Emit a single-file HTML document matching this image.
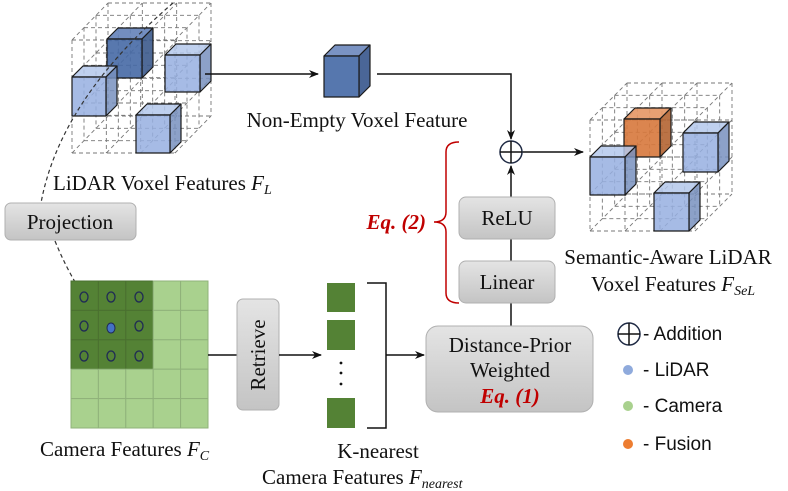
<!DOCTYPE html>
<html><head><meta charset="utf-8"><style>
html,body{margin:0;padding:0;background:#fff;}
svg{display:block;}
.t{font-family:"Liberation Serif",serif;fill:#111;}
.s{font-family:"Liberation Sans",sans-serif;fill:#111;font-size:19px;}
.r{font-family:"Liberation Serif",serif;fill:#c00000;font-weight:bold;font-style:italic;}
</style></head><body>
<svg id="g" width="788" height="491" viewBox="0 0 788 491" xmlns="http://www.w3.org/2000/svg">
<defs>
<linearGradient id="gb" x1="0" y1="0" x2="0" y2="1"><stop offset="0" stop-color="#e4e4e4"/><stop offset="1" stop-color="#c4c4c4"/></linearGradient>
<marker id="ar" markerWidth="10" markerHeight="10" refX="9" refY="5" orient="auto" markerUnits="userSpaceOnUse"><path d="M0,1 L10,5 L0,9 L3,5z" fill="#111"/></marker>
</defs>
<g id="grids"></g>
<g id="cubes"></g>

<line x1="205" y1="74" x2="318" y2="74" stroke="#111" stroke-width="1.5" marker-end="url(#ar)"/>
<polyline points="377,74 511,74 511,139" fill="none" stroke="#111" stroke-width="1.5" marker-end="url(#ar)"/>
<line x1="522" y1="152" x2="583" y2="152" stroke="#111" stroke-width="1.5" marker-end="url(#ar)"/>
<line x1="511" y1="326" x2="511" y2="166" stroke="#111" stroke-width="1.5" marker-end="url(#ar)"/>
<circle cx="511" cy="152" r="11" fill="#fff" stroke="#1f2a44" stroke-width="1.5"/>
<path d="M500,152h22M511,141v22" stroke="#111" stroke-width="1.5"/>

<text class="t" x="357" y="127" font-size="21" text-anchor="middle">Non-Empty Voxel Feature</text>
<text class="t" x="53" y="190" font-size="21">LiDAR Voxel Features <tspan font-style="italic">F</tspan><tspan font-style="italic" font-size="14" dy="4">L</tspan></text>

<rect x="5" y="203" width="131" height="37" rx="6" fill="url(#gb)" stroke="#b0b0b0"/>
<text class="t" x="70" y="229" font-size="21" text-anchor="middle">Projection</text>
<path d="M173,3 Q60,100 41,203" fill="none" stroke="#333" stroke-width="1.2" stroke-dasharray="4,3"/>
<path d="M55,241 Q75,290 106,325" fill="none" stroke="#333" stroke-width="1.2" stroke-dasharray="4,3" marker-end="url(#ar)"/>

<g id="cam"></g>

<line x1="208" y1="355" x2="237" y2="355" stroke="#111" stroke-width="1.5"/>
<rect x="237" y="299" width="42" height="111" rx="6" fill="url(#gb)" stroke="#b0b0b0"/>
<text class="t" font-size="21" text-anchor="middle" transform="translate(265,355) rotate(-90)">Retrieve</text>
<line x1="279" y1="355" x2="321" y2="355" stroke="#111" stroke-width="1.5" marker-end="url(#ar)"/>

<rect x="327" y="283" width="28" height="29" fill="#548235"/>
<rect x="327" y="320" width="28" height="30" fill="#548235"/>
<rect x="327" y="398" width="28" height="30" fill="#548235"/>
<circle cx="341" cy="363" r="1.4" fill="#111"/><circle cx="341" cy="373" r="1.4" fill="#111"/><circle cx="341" cy="384" r="1.4" fill="#111"/>
<polyline points="367,283 386,283 386,428 367,428" fill="none" stroke="#111" stroke-width="1.5"/>
<line x1="386" y1="355" x2="424" y2="355" stroke="#111" stroke-width="1.5" marker-end="url(#ar)"/>

<rect x="426" y="326" width="167" height="86" rx="12" fill="url(#gb)" stroke="#b0b0b0"/>
<text class="t" x="510" y="352" font-size="21" text-anchor="middle">Distance-Prior</text>
<text class="t" x="510" y="377" font-size="21" text-anchor="middle">Weighted</text>
<text class="r" x="510" y="403" font-size="21" text-anchor="middle">Eq. (1)</text>

<rect x="459" y="261" width="96" height="42" rx="7" fill="url(#gb)" stroke="#b0b0b0"/>
<text class="t" x="507" y="289" font-size="21" text-anchor="middle">Linear</text>
<rect x="459" y="197" width="96" height="42" rx="7" fill="url(#gb)" stroke="#b0b0b0"/>
<text class="t" x="507" y="225" font-size="21" text-anchor="middle">ReLU</text>

<path d="M459,142 Q446,142 446,152 L446,212 Q446,222 434,222 Q446,222 446,232 L446,293 Q446,303 459,303" fill="none" stroke="#c00000" stroke-width="1.5"/>
<text class="r" x="426" y="229" font-size="21" text-anchor="end">Eq. (2)</text>

<text class="t" x="668" y="264" font-size="21" text-anchor="middle">Semantic-Aware LiDAR</text>
<text class="t" x="591" y="291" font-size="21">Voxel Features <tspan font-style="italic">F</tspan><tspan font-style="italic" font-size="14" dy="4">SeL</tspan></text>

<circle cx="629" cy="334" r="11" fill="#fff" stroke="#1f2a44" stroke-width="1.5"/>
<path d="M618,334h22M629,323v22" stroke="#111" stroke-width="1.5"/>
<text class="s" x="643" y="340">- Addition</text>
<circle cx="628" cy="370" r="5" fill="#8faadc"/><text class="s" x="643" y="376">- LiDAR</text>
<circle cx="628" cy="406" r="5" fill="#a9d18e"/><text class="s" x="643" y="412">- Camera</text>
<circle cx="628" cy="444" r="5" fill="#ed7d31"/><text class="s" x="643" y="450">- Fusion</text>

<text class="t" x="40" y="456" font-size="21">Camera Features <tspan font-style="italic">F</tspan><tspan font-style="italic" font-size="14" dy="4">C</tspan></text>
<text class="t" x="378" y="458" font-size="21" text-anchor="middle">K-nearest</text>
<text class="t" x="262" y="484" font-size="21">Camera Features <tspan font-style="italic">F</tspan><tspan font-style="italic" font-size="14" dy="4">nearest</tspan></text>
</svg>
<script>
var NS="http://www.w3.org/2000/svg";
function el(p,n,a){var e=document.createElementNS(NS,n);for(var k in a)e.setAttribute(k,a[k]);p.appendChild(e);return e;}
var G=document.getElementById("grids"),C=document.getElementById("cubes"),CAM=document.getElementById("cam");
function grid(x0,y0,w,h,dx,dy){
 var st={stroke:"#777","stroke-width":"0.9","stroke-dasharray":"4,3",fill:"none"};
 for(var k=0;k<=3;k++){var ox=dx*k/3,oy=dy*k/3;
  for(var i=0;i<=3;i++){
   el(G,"line",Object.assign({x1:x0+ox+w*i/3,y1:y0+oy,x2:x0+ox+w*i/3,y2:y0+oy+h},st));
   el(G,"line",Object.assign({x1:x0+ox,y1:y0+oy+h*i/3,x2:x0+ox+w,y2:y0+oy+h*i/3},st));
  }}
 for(var i=0;i<=3;i++)for(var j=0;j<=3;j++){
  el(G,"line",Object.assign({x1:x0+w*i/3,y1:y0+h*j/3,x2:x0+w*i/3+dx,y2:y0+h*j/3+dy},st));
 }
}
grid(72,40,103,113,36,-37);
grid(590,120,105,111,37,-37);
function cube(x,y,w,h,d,f,t,s){
 var st={stroke:"#1a1a1a","stroke-width":"1.2","stroke-linejoin":"round"};
 el(C,"polygon",Object.assign({points:[x,y,x+d,y-d,x+w+d,y-d,x+w,y].join(","),fill:t},st));
 el(C,"polygon",Object.assign({points:[x+w,y,x+w+d,y-d,x+w+d,y+h-d,x+w,y+h].join(","),fill:s},st));
 el(C,"rect",Object.assign({x:x,y:y,width:w,height:h,fill:f},st));
}
var B=["rgba(150,175,225,0.85)","rgba(180,200,235,0.85)","rgba(120,145,190,0.85)"];
var D=["rgba(70,105,165,0.9)","rgba(100,130,185,0.9)","rgba(60,90,140,0.9)"];
var O=["rgba(215,120,60,0.9)","rgba(230,150,100,0.9)","rgba(180,100,50,0.9)"];
cube(107,39,35,39,11,D[0],D[1],D[2]);
cube(165,55,35,37,11,B[0],B[1],B[2]);
cube(72,77,34,39,11,B[0],B[1],B[2]);
cube(136,115,34,38,11,B[0],B[1],B[2]);
cube(324,56,35,41,11,"#5677ae","#7a93c3","#4a6697");
cube(624,119,36,38,11,O[0],O[1],O[2]);
cube(683,133,35,39,11,B[0],B[1],B[2]);
cube(590,157,35,38,11,B[0],B[1],B[2]);
cube(654,193,35,38,11,B[0],B[1],B[2]);
var xs=[71,98.4,125.8,153.2,180.6,208],ys=[281,310.4,339.8,369.2,398.6,428];
for(var i=0;i<5;i++)for(var j=0;j<5;j++){
 el(CAM,"rect",{x:xs[i],y:ys[j],width:xs[i+1]-xs[i],height:ys[j+1]-ys[j],fill:(i<3&&j<3)?"#548235":"#a9d18e",stroke:(i<3&&j<3)?"#4a7030":"#8fb27a","stroke-width":"1"});
}
var cx=[84,111,139],cy=[297,326,356];
for(var i=0;i<3;i++)for(var j=0;j<3;j++){
 if(i==1&&j==1)el(CAM,"ellipse",{cx:111,cy:328,rx:4,ry:5,fill:"#4472c4",stroke:"#1f2a55","stroke-width":"1"});
 else el(CAM,"ellipse",{cx:cx[i],cy:cy[j],rx:4,ry:5,fill:"none",stroke:"#1f2a55","stroke-width":"1.3"});
}
</script>
</body></html>
